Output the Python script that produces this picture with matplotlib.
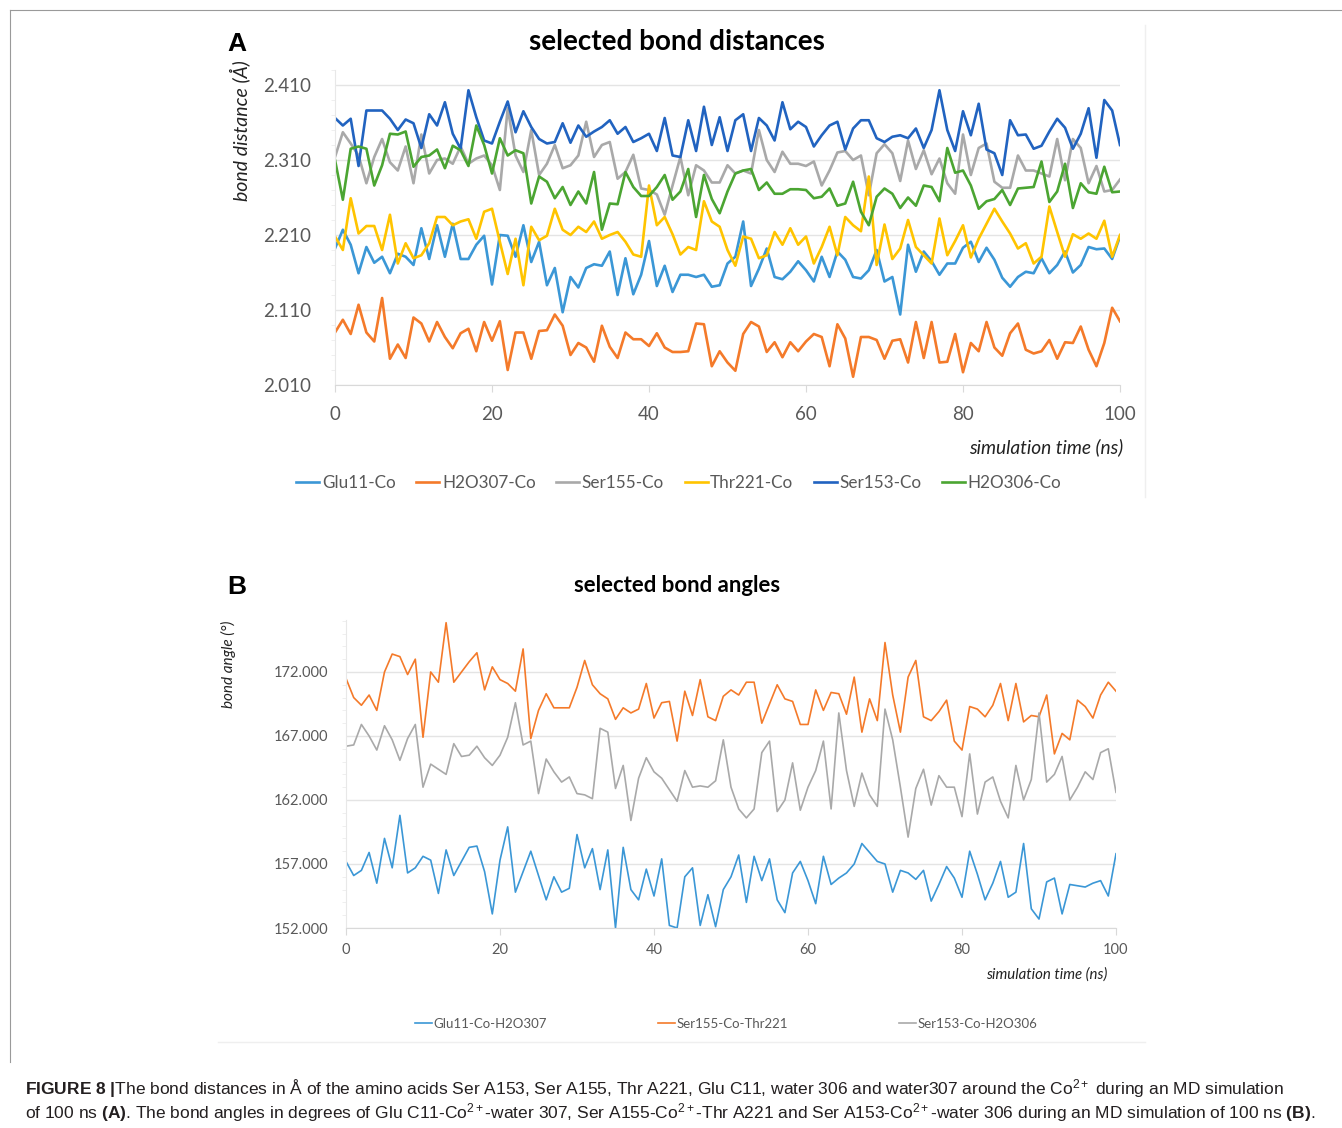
import matplotlib.pyplot as plt
import numpy as np
from matplotlib.lines import Line2D

# --- panel A: bond distances (Angstrom), one value per ns, 0..100 ns
time_ns = list(range(101))

glu11_co = [2.192, 2.217, 2.197, 2.159, 2.194, 2.173, 2.181, 2.159, 2.185, 2.181, 2.170, 2.219, 2.178, 2.223, 2.181,
            2.225, 2.178, 2.178, 2.197, 2.209, 2.144, 2.210, 2.209, 2.181, 2.223, 2.174, 2.201, 2.143, 2.166, 2.107,
            2.154, 2.140, 2.166, 2.171,
            2.169, 2.188, 2.130, 2.179, 2.131, 2.157, 2.202, 2.142, 2.169, 2.134, 2.157, 2.157, 2.154, 2.157, 2.141,
            2.143, 2.172, 2.181, 2.228, 2.142, 2.165, 2.192, 2.154, 2.151, 2.161, 2.175, 2.163, 2.148, 2.181, 2.154,
            2.188, 2.177, 2.154,
            2.152, 2.163, 2.190, 2.148, 2.154, 2.104, 2.197, 2.161, 2.188, 2.175, 2.157, 2.172, 2.172, 2.193, 2.201,
            2.174, 2.193, 2.177, 2.153, 2.141, 2.154, 2.161, 2.159, 2.179, 2.159, 2.170, 2.188, 2.160, 2.170, 2.194,
            2.191, 2.192, 2.178, 2.208]
h2o307_co = [2.080, 2.097, 2.078, 2.117, 2.080, 2.068, 2.126, 2.045, 2.064, 2.046, 2.100, 2.092, 2.068, 2.094, 2.074,
             2.059, 2.079, 2.085, 2.055, 2.094, 2.069, 2.095, 2.030, 2.080, 2.080, 2.045, 2.082, 2.083, 2.104, 2.089,
             2.050, 2.066, 2.060,
             2.041, 2.089, 2.061, 2.046, 2.080, 2.071, 2.071, 2.062, 2.079, 2.060, 2.054, 2.054, 2.055, 2.092, 2.091,
             2.035, 2.055, 2.040, 2.029, 2.078, 2.094, 2.088, 2.054, 2.067, 2.047, 2.067, 2.055, 2.068, 2.078, 2.074,
             2.035, 2.091, 2.072, 2.021,
             2.074, 2.074, 2.070, 2.045, 2.069, 2.071, 2.040, 2.094, 2.046, 2.094, 2.040, 2.041, 2.078, 2.027, 2.066,
             2.055, 2.094, 2.060, 2.049, 2.079, 2.092, 2.057, 2.052, 2.055, 2.070, 2.045, 2.067, 2.066, 2.088, 2.057,
             2.035, 2.066, 2.113, 2.095]
ser155_co = [2.314, 2.347, 2.332, 2.316, 2.279, 2.314, 2.338, 2.307, 2.296, 2.328, 2.279, 2.344, 2.292, 2.310, 2.312,
             2.305, 2.328, 2.305, 2.312, 2.316, 2.303, 2.270, 2.379, 2.316, 2.294, 2.350, 2.290, 2.305, 2.330, 2.299,
             2.303, 2.316, 2.361, 2.314,
             2.330, 2.334, 2.285, 2.294, 2.317, 2.272, 2.270, 2.264, 2.237, 2.276, 2.314, 2.263, 2.303, 2.296, 2.280,
             2.280, 2.303, 2.292, 2.296, 2.292, 2.350, 2.310, 2.294, 2.321, 2.305, 2.305, 2.302, 2.308, 2.276, 2.296,
             2.320, 2.322, 2.310,
             2.316, 2.263, 2.319, 2.331, 2.319, 2.282, 2.336, 2.298, 2.323, 2.291, 2.312, 2.279, 2.265, 2.344, 2.290,
             2.326, 2.332, 2.281, 2.273, 2.273, 2.316, 2.296, 2.296, 2.292, 2.288, 2.338, 2.283, 2.338, 2.326, 2.279,
             2.302, 2.268, 2.270, 2.284]
thr221_co = [2.208, 2.190, 2.259, 2.212, 2.222, 2.222, 2.190, 2.237, 2.172, 2.199, 2.179, 2.183, 2.199, 2.234, 2.234,
             2.223, 2.228, 2.231, 2.205, 2.241, 2.245, 2.201, 2.158, 2.205, 2.143, 2.221, 2.203, 2.209, 2.245, 2.217,
             2.210, 2.221, 2.214, 2.228,
             2.205, 2.210, 2.214, 2.201, 2.184, 2.181, 2.276, 2.223, 2.234, 2.211, 2.184, 2.194, 2.190, 2.255, 2.228,
             2.221, 2.190, 2.169, 2.208, 2.205, 2.179, 2.183, 2.214, 2.197, 2.219, 2.197, 2.208, 2.172, 2.194, 2.221,
             2.183, 2.234, 2.223,
             2.215, 2.288, 2.170, 2.224, 2.178, 2.192, 2.230, 2.194, 2.183, 2.172, 2.232, 2.183, 2.202, 2.223, 2.180,
             2.205, 2.225, 2.245, 2.228, 2.212, 2.192, 2.199, 2.172, 2.181, 2.248, 2.214, 2.181, 2.211, 2.205, 2.212,
             2.205, 2.229, 2.181, 2.210]
ser153_co = [2.366, 2.356, 2.365, 2.302, 2.376, 2.376, 2.376, 2.365, 2.350, 2.364, 2.359, 2.326, 2.371, 2.356, 2.387,
             2.345, 2.325, 2.403, 2.367, 2.336, 2.332, 2.361, 2.388, 2.347, 2.375, 2.354, 2.338, 2.332, 2.334, 2.359,
             2.333, 2.356, 2.341, 2.348,
             2.354, 2.363, 2.345, 2.354, 2.334, 2.339, 2.345, 2.322, 2.366, 2.316, 2.314, 2.363, 2.322, 2.381, 2.330,
             2.367, 2.322, 2.363, 2.371, 2.322, 2.366, 2.356, 2.336, 2.387, 2.351, 2.361, 2.354, 2.328, 2.343, 2.356,
             2.361, 2.324, 2.352,
             2.363, 2.363, 2.339, 2.334, 2.341, 2.343, 2.339, 2.352, 2.326, 2.350, 2.403, 2.350, 2.322, 2.375, 2.343,
             2.385, 2.324, 2.319, 2.290, 2.363, 2.343, 2.344, 2.325, 2.329, 2.348, 2.365, 2.353, 2.325, 2.345, 2.379,
             2.313, 2.390, 2.376, 2.330]
h2o306_co = [2.310, 2.257, 2.325, 2.328, 2.325, 2.276, 2.303, 2.345, 2.344, 2.348, 2.301, 2.314, 2.316, 2.324, 2.299,
             2.329, 2.323, 2.302, 2.356, 2.330, 2.292, 2.339, 2.316, 2.323, 2.319, 2.252, 2.288, 2.281, 2.259, 2.274,
             2.250, 2.268, 2.252, 2.294,
             2.217, 2.252, 2.251, 2.294, 2.274, 2.262, 2.262, 2.274, 2.290, 2.257, 2.268, 2.298, 2.234, 2.290, 2.258,
             2.239, 2.268, 2.292, 2.296, 2.298, 2.270, 2.280, 2.265, 2.265, 2.271, 2.271, 2.270, 2.259, 2.261, 2.272,
             2.249, 2.252, 2.281,
             2.241, 2.223, 2.261, 2.272, 2.265, 2.246, 2.260, 2.249, 2.276, 2.274, 2.255, 2.326, 2.293, 2.296, 2.276,
             2.245, 2.255, 2.258, 2.270, 2.250, 2.272, 2.273, 2.274, 2.308, 2.254, 2.268, 2.305, 2.246, 2.279, 2.267,
             2.265, 2.301, 2.267, 2.268]

# --- panel B: bond angles (degrees)
glu11_co_h2o307 = [157.2, 156.1, 156.5, 157.9, 155.5, 159.0, 156.7, 160.8, 156.3, 156.7, 157.6, 157.3, 154.7, 158.1,
                   156.1, 157.2, 158.3, 158.4, 156.4, 153.1, 157.3, 159.9, 154.8, 156.4, 158.0, 156.1, 154.2, 156.0,
                   154.8, 155.1, 159.3, 156.7, 158.2,
                   155.0, 158.1, 152.0, 158.3, 155.0, 154.2, 156.6, 154.5, 157.4, 152.2, 152.0, 156.0, 156.7, 152.2,
                   154.6, 152.1, 155.0, 156.0, 157.7, 154.0, 157.6, 155.7, 157.4, 154.2, 153.2, 156.3, 157.2, 155.7,
                   153.9, 157.6, 155.4, 155.9, 156.3, 157.0,
                   158.6, 157.9, 157.2, 157.0, 154.8, 156.5, 156.3, 155.8, 156.5, 154.1, 155.4, 156.8, 155.9, 154.4,
                   158.0, 156.2, 154.2, 155.5, 157.2, 154.4, 154.8, 158.6, 153.5, 152.7, 155.6, 155.9, 153.1, 155.4,
                   155.3, 155.2, 155.5, 155.7, 154.5, 157.8]
ser155_co_thr221 = [171.5, 170.0, 169.4, 170.2, 169.0, 172.0, 173.4, 173.2, 171.8, 173.0, 166.9, 172.0, 171.2, 175.85,
                    171.2, 172.0, 172.8, 173.5, 170.6, 172.4, 171.4, 171.1, 170.5, 173.8, 166.8, 169.0, 170.3, 169.2,
                    169.2, 169.2, 170.8, 172.9, 171.0, 170.3,
                    169.9, 168.3, 169.2, 168.8, 169.1, 171.1, 168.4, 169.6, 169.7, 166.6, 170.5, 168.6, 171.4, 168.5,
                    168.2, 170.1, 170.6, 170.2, 171.2, 171.2, 168.0, 169.5, 171.0, 169.9, 169.7, 167.9, 167.9, 170.6,
                    169.0, 170.4, 170.3, 168.7, 171.6,
                    167.3, 169.9, 168.2, 174.3, 170.2, 167.3, 171.6, 172.9, 168.5, 168.2, 168.9, 169.8, 166.6, 165.9,
                    169.3, 169.1, 168.5, 169.4, 171.1, 168.2, 171.1, 168.1, 168.6, 168.5, 170.2, 165.6, 167.2, 166.7,
                    169.8, 169.3, 168.4, 170.2, 171.2, 170.5]
ser153_co_h2o306 = [166.2, 166.3, 167.9, 167.0, 165.9, 167.8, 166.7, 165.1, 166.8, 167.9, 163.0, 164.8, 164.4, 164.0,
                    166.4, 165.4, 165.5, 166.2, 165.3, 164.7, 165.5, 166.9, 169.6, 166.3, 166.6, 162.5, 165.2, 164.2,
                    163.4, 163.8, 162.5, 162.4, 162.1,
                    167.6, 167.3, 162.9, 164.7, 160.4, 163.7, 165.3, 164.2, 163.7, 162.8, 161.9, 164.3, 163.0, 163.1,
                    163.0, 163.5, 166.7, 163.0, 161.3, 160.6, 161.3, 165.7, 166.6, 161.1, 162.0, 164.9, 161.2, 163.0,
                    164.3, 166.6, 161.3, 168.8, 164.3, 161.5,
                    164.1, 162.4, 161.5, 169.1, 166.7, 163.0, 159.1, 162.9, 164.4, 161.6, 163.9, 163.0, 163.0, 160.7,
                    165.6, 160.9, 163.4, 163.8, 161.9, 160.6, 164.7, 162.0, 163.6, 168.8, 163.4, 164.0, 165.4, 162.0,
                    163.0, 164.2, 163.6, 165.7, 166.0, 162.6]

dist_series = [("Glu11-Co", glu11_co, "#3B97D6"), ("H2O307-Co", h2o307_co, "#F47A2A"),
               ("Ser155-Co", ser155_co, "#A9A9A9"), ("Thr221-Co", thr221_co, "#FFC400"),
               ("Ser153-Co", ser153_co, "#2163C0"), ("H2O306-Co", h2o306_co, "#4BA532")]
angle_series = [("Glu11-Co-H2O307", glu11_co_h2o307, "#3B97D6"),
                ("Ser155-Co-Thr221", ser155_co_thr221, "#F47A2A"),
                ("Ser153-Co-H2O306", ser153_co_h2o306, "#A9A9A9")]

plt.rcParams['font.family'] = ['Lato', 'DejaVu Sans']
plt.rcParams['mathtext.fontset'] = 'custom'
plt.rcParams['mathtext.rm'] = 'Liberation Sans'
plt.rcParams['mathtext.bf'] = 'Liberation Sans:bold'
plt.rcParams['mathtext.it'] = 'Liberation Sans:italic'

W, H = 1342, 1128
fig = plt.figure(figsize=(W / 100, H / 100), dpi=100)
tick_col = '#595959'
grid_col = '#E4E4E4'


def fx(px):
    return px / W


def fy(py):
    return 1 - py / H


def style_axes(ax, label_size, ypad, xpad, minor_step):
    for s in ['top', 'right']:
        ax.spines[s].set_visible(False)
    ax.spines['left'].set_color('#E8E8E8')
    ax.spines['bottom'].set_color('#D9D9D9')
    ax.grid(axis='y', color=grid_col, lw=1)
    ax.set_axisbelow(True)
    lo, hi = ax.get_ylim()
    ax.set_yticks(np.arange(lo, hi, minor_step), minor=True)
    ax.tick_params(axis='y', which='major', length=0, labelsize=label_size, labelcolor=tick_col, pad=ypad)
    ax.tick_params(axis='y', which='minor', length=3, color='#EDEDED')
    ax.tick_params(axis='x', length=5, color='#D9D9D9', labelsize=label_size, labelcolor=tick_col, pad=xpad)


# frame of the figure box
fig.add_artist(Line2D([fx(10), 1], [fy(10), fy(10)], color='#9A9A9A', lw=0.8))
fig.add_artist(Line2D([fx(10), fx(10)], [fy(10), fy(1062)], color='#9A9A9A', lw=0.8))
# faint chart-area edges
fig.add_artist(Line2D([fx(1145), fx(1145)], [fy(25), fy(497)], color='#EFEFEF', lw=1))
fig.add_artist(Line2D([fx(218), fx(1145)], [fy(1042), fy(1042)], color='#EFEFEF', lw=1))

# ---------------- panel A
axA = fig.add_axes([fx(335), fy(385), fx(1120) - fx(335), fy(70) - fy(385)])
for name, vals, col in dist_series:
    axA.plot(time_ns, vals, color=col, lw=1.9, label=name)
axA.set_xlim(0, 100)
axA.set_ylim(2.010, 2.430)
axA.set_yticks([2.010, 2.110, 2.210, 2.310, 2.410])
axA.set_yticklabels(['2.010', '2.110', '2.210', '2.310', '2.410'])
axA.set_xticks(range(0, 101, 20))
style_axes(axA, 13.5, 17, 10, 0.02)

fig.text(fx(237), fy(44), 'A', fontsize=19, fontweight='bold', family='Liberation Sans', ha='center', va='center')
fig.text(fx(677), fy(42), 'selected bond distances', fontsize=20, fontweight='bold', ha='center', va='center')
fig.text(fx(240), fy(131), 'bond distance (Å)', fontsize=14, style='italic', rotation=90, ha='center', va='center',
         color='#222222')
fig.text(fx(1123), fy(447), 'simulation time (ns)', fontsize=13.8, style='italic', ha='right', va='center',
         color='#222222')
fig.legend(*axA.get_legend_handles_labels(), loc='center', bbox_to_anchor=(fx(679), fy(483)), ncol=6,
           frameon=False, fontsize=12.3, handlelength=1.35, handletextpad=0.15, columnspacing=1.2,
           labelcolor=tick_col)

# ---------------- panel B
axB = fig.add_axes([fx(346), fy(928), fx(1116) - fx(346), fy(620) - fy(928)])
for name, vals, col in angle_series:
    axB.plot(time_ns, vals, color=col, lw=1.2, label=name)
axB.set_xlim(0, 100)
axB.set_ylim(152, 176.06)
axB.set_yticks([152, 157, 162, 167, 172])
axB.set_yticklabels(['%.3f' % v for v in [152, 157, 162, 167, 172]])
axB.set_xticks(range(0, 101, 20))
style_axes(axB, 10.5, 13, 6, 1)

fig.text(fx(237), fy(587), 'B', fontsize=19, fontweight='bold', family='Liberation Sans', ha='center', va='center')
fig.text(fx(677), fy(585), 'selected bond angles', fontsize=15.9, fontweight='bold', ha='center', va='center')
fig.text(fx(228), fy(664), 'bond angle (°)', fontsize=11, style='italic', rotation=90, ha='center', va='center',
         color='#222222')
fig.text(fx(1107), fy(975), 'simulation time (ns)', fontsize=10.8, style='italic', ha='right', va='center',
         color='#222222')
fig.legend(*axB.get_legend_handles_labels(), loc='center', bbox_to_anchor=(fx(726), fy(1024)), ncol=3,
           frameon=False, fontsize=9.5, handlelength=1.3, handletextpad=0.1, columnspacing=8.4,
           labelcolor=tick_col)

# ---------------- caption
cap1 = (r"$\mathbf{FIGURE\ 8\ |}$The bond distances in Å of the amino acids Ser A153, Ser A155, Thr A221, "
        r"Glu C11, water 306 and water307 around the Co$^{2+}$ during an MD simulation")
cap2 = (r"of 100 ns $\mathbf{(A)}$. The bond angles in degrees of Glu C11-Co$^{2+}$-water 307, "
        r"Ser A155-Co$^{2+}$-Thr A221 and Ser A153-Co$^{2+}$-water 306 during an MD simulation of 100 ns "
        r"$\mathbf{(B)}$.")
fig.text(fx(25), fy(1089), cap1, fontsize=12.5, family='Liberation Sans', ha='left', va='center', color='#231F20')
fig.text(fx(25), fy(1113), cap2, fontsize=12.5, family='Liberation Sans', ha='left', va='center', color='#231F20')

fig.savefig('out.png', dpi=100)
